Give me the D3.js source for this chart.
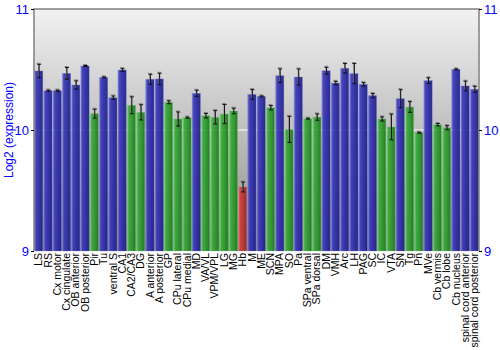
<!DOCTYPE html>
<html><head><meta charset="utf-8">
<script src="https://cdn.jsdelivr.net/npm/d3@7"></script>
<style>body{margin:0;background:#fff;}svg{display:block;font-family:"Liberation Sans",Arial,sans-serif;}</style>
</head><body><svg id="c" width="500" height="350"></svg>
<script>
const categories = ["LS","RS","Cx motor","Cx cingulate","OB anterior","OB posterior","Pir","Tu","ventral S","CA1","CA2/CA3","DG","A anterior","A posterior","GP","CPu lateral","CPu medial","MD","VA/VL","VPM/VPL","LG","MG","Hb","M","ME","SCN","MPA","SO","Pa","SPa ventral","SPa dorsal","DM","VMH","Arc","LH","PAG","SC","IC","VTA","SN","Tg","Pn","MVe","Cb vermis","Cb lobe","Cb nucleus","spinal cord anterior","spinal cord posterior"];
const values = [10.488,10.325,10.325,10.468,10.372,10.529,10.135,10.435,10.267,10.496,10.204,10.146,10.419,10.422,10.229,10.091,10.102,10.303,10.118,10.105,10.132,10.157,9.529,10.294,10.278,10.184,10.449,10.005,10.438,10.094,10.107,10.49,10.388,10.51,10.466,10.377,10.284,10.091,10.025,10.259,10.19,9.978,10.408,10.044,10.019,10.501,10.364,10.336];
const errors = [0.055,0.005,0.005,0.048,0.034,0.004,0.037,0.004,0.014,0.011,0.07,0.063,0.041,0.047,0.012,0.058,0.005,0.025,0.019,0.055,0.079,0.023,0.041,0.04,0.004,0.018,0.056,0.108,0.066,0.004,0.026,0.028,0.014,0.039,0.083,0.014,0.017,0.017,0.106,0.074,0.044,0.004,0.023,0.01,0.017,0.004,0.04,0.025];
const groups = ["b","b","b","b","b","b","g","b","b","b","g","g","b","b","g","g","g","b","g","g","g","g","r","b","b","g","b","g","b","g","g","b","b","b","b","b","b","g","g","b","g","g","b","g","g","b","b","b"];
const yTicks = [9,10,11];

const svg = d3.select("#c");
const L=34, R=479, T=9, B=251;
const x = d3.scaleBand().domain(categories).range([L,R]).paddingInner(0.1).paddingOuter(0.05);
const y = d3.scaleLinear().domain([9,11]).range([B,T]);
const defs = svg.append("defs");
const bg = defs.append("linearGradient").attr("id","bg").attr("x1",0).attr("y1",0).attr("x2",0).attr("y2",1);
bg.append("stop").attr("offset","0%").attr("stop-color","#f2f2f2");
bg.append("stop").attr("offset","100%").attr("stop-color","#8c8c8c");
const pal = {b:["#7a7ad8","#3a3ab8","#2a2aa2","#1e1e86"], g:["#7ad07a","#3aaa3a","#2a952a","#1e761e"], r:["#e08080","#cc4040","#b83030","#962424"]};
Object.entries(pal).forEach(([k,c])=>{
  const g = defs.append("linearGradient").attr("id","bar"+k).attr("x1",0).attr("y1",0).attr("x2",1).attr("y2",0);
  g.append("stop").attr("offset","0%").attr("stop-color",c[0]);
  g.append("stop").attr("offset","20%").attr("stop-color",c[1]);
  g.append("stop").attr("offset","60%").attr("stop-color",c[2]);
  g.append("stop").attr("offset","100%").attr("stop-color",c[3]);
});
svg.append("rect").attr("x",L).attr("y",T).attr("width",R-L).attr("height",B-T).attr("fill","url(#bg)");
svg.append("line").attr("x1",L).attr("x2",R).attr("y1",y(10)).attr("y2",y(10)).attr("stroke","#fff").attr("stroke-width",1.2);

const data = categories.map((c,i)=>({c,v:values[i],e:errors[i],g:groups[i]}));
svg.append("g").selectAll("rect").data(data).join("rect")
  .attr("x",d=>x(d.c)).attr("width",x.bandwidth())
  .attr("y",d=>y(d.v)).attr("height",d=>B-y(d.v))
  .attr("fill",d=>"url(#bar"+d.g+")").attr("fill-opacity",0.93)
  .attr("stroke",d=>pal[d.g][0]).attr("stroke-opacity",0.5).attr("stroke-width",0.6);

const eb = svg.append("g");
data.forEach(d=>{
  const cx = x(d.c)+x.bandwidth()/2;
  const y1=y(d.v+d.e), y2=y(d.v-d.e);
  const sh = eb.append("g").attr("stroke","#888").attr("stroke-width",1).attr("transform","translate(0,-1)");
  sh.append("line").attr("x1",cx).attr("x2",cx).attr("y1",y1).attr("y2",y2);
  sh.append("line").attr("x1",cx-2).attr("x2",cx+2).attr("y1",y1).attr("y2",y1);
  const g = eb.append("g").attr("stroke","#111").attr("stroke-width",1);
  g.append("line").attr("x1",cx+0.5).attr("x2",cx+0.5).attr("y1",y1).attr("y2",y2);
  g.append("line").attr("x1",cx-1.5).attr("x2",cx+2.5).attr("y1",y1).attr("y2",y1);
  g.append("line").attr("x1",cx-1.5).attr("x2",cx+2.5).attr("y1",y2).attr("y2",y2);
});

// frame
svg.append("path").attr("d",`M${L},${B}V${T}H${R}V${B}`).attr("fill","none").attr("stroke","#808080").attr("stroke-width",1.5);

const la = svg.append("g").attr("transform",`translate(${L},0)`).call(d3.axisLeft(y).tickValues(yTicks).tickFormat(d3.format("d")).tickSize(3).tickPadding(2));
const ra = svg.append("g").attr("transform",`translate(${R},0)`).call(d3.axisRight(y).tickValues(yTicks).tickFormat(d3.format("d")).tickSize(3).tickPadding(2));
[la,ra].forEach(a=>{
  a.select(".domain").remove();
  a.selectAll(".tick line").attr("stroke","#000");
  a.selectAll(".tick text").attr("fill","#0000ff").attr("font-size",13).attr("font-family","Liberation Sans, Arial, sans-serif");
});
svg.append("text").attr("transform",`translate(13,${(T+B)/2}) rotate(-90)`).attr("text-anchor","middle")
  .attr("fill","#0000ff").attr("font-size",12).text("Log2 (expression)");

svg.append("g").selectAll("text").data(categories).join("text")
  .attr("transform",d=>`translate(${x(d)+x.bandwidth()/2+3.7},${B+2}) rotate(-90)`)
  .attr("text-anchor","end").attr("font-size",10.5).attr("fill","#000").text(d=>d);
</script></body></html>
